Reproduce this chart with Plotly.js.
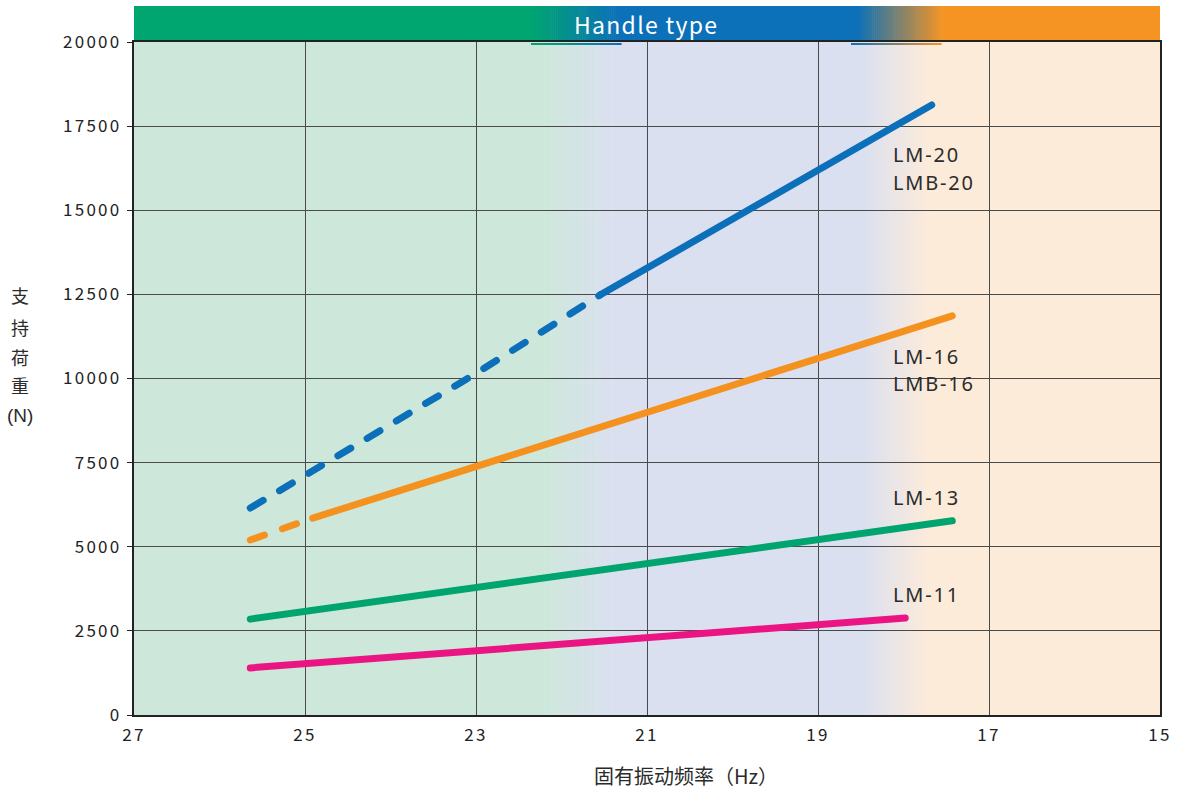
<!DOCTYPE html>
<html>
<head>
<meta charset="utf-8">
<script src="https://cdn.plot.ly/plotly-3.0.1.min.js"></script>
<style>
  html, body { margin: 0; padding: 0; background: #ffffff; }
  #chart { width: 1179px; height: 792px; }
  .scatterlayer .js-line { stroke-linecap: round; }
  .xtick text, .ytick text { letter-spacing: 2.3px; }
</style>
</head>
<body>
<div id="chart"></div>
<script>
// ---------- data ----------
const xTicks = [27, 25, 23, 21, 19, 17, 15];
const yTicks = [0, 2500, 5000, 7500, 10000, 12500, 15000, 17500, 20000];

const lm20DashFreq = [25.64, 23, 21.55];
const lm20DashLoad = [6150, 10150, 12480];
const lm20Freq = [21.55, 21, 19, 17.67];
const lm20Load = [12480, 13280, 16140, 18130];

const lm16DashFreq = [25.64, 24.91];
const lm16DashLoad = [5200, 5850];
const lm16Freq = [24.91, 23, 21, 19, 17.43];
const lm16Load = [5850, 7400, 8990, 10600, 11860];

const lm13Freq = [25.64, 23, 21, 19, 17.43];
const lm13Load = [2850, 3790, 4520, 5210, 5770];

const lm11Freq = [25.64, 23, 21, 17.98];
const lm11Load = [1400, 1910, 2300, 2880];

const seriesLabels = [
  {text: 'LM-20', y: 155}, {text: 'LMB-20', y: 182.5},
  {text: 'LM-16', y: 356}, {text: 'LMB-16', y: 383.5},
  {text: 'LM-13', y: 497}, {text: 'LM-11', y: 594}
];
const yTitleChars = ['支', '持', '荷', '重', '(N)'];
const xTitle = '固有振动频率（Hz）';
const bandTitle = 'Handle type';

// ---------- colours ----------
const C = {
  blue: '#0b70b9', orange: '#f5921f', green: '#00a46e', pink: '#ea1582',
  bgGreen: [205, 232, 218], bgLav: [218, 224, 240], bgPeach: [253, 235, 218],
  bandGreen: [0, 166, 111], bandBlue: [12, 113, 185], bandOrange: [245, 148, 35]
};

// ---------- geometry helpers (pixel -> paper) ----------
const L = 134, R = 1160, T = 42, B = 715;
const px = v => (v - L) / (R - L);
const py = v => (B - v) / (B - T);
const rgb = a => 'rgb(' + a.map(Math.round).join(',') + ')';
const mix = (a, b, t) => a.map((v, i) => v + (b[i] - v) * t);

const shapes = [];
function rect(x0, x1, y0, y1, col, layer) {
  shapes.push({type: 'rect', xref: 'paper', yref: 'paper', x0: px(x0), x1: px(x1),
    y0: py(y1), y1: py(y0), fillcolor: rgb(col), line: {width: 0}, layer: layer});
}
function grad(x0, x1, y0, y1, c0, c1, n, layer) {
  const w = (x1 - x0) / n;
  for (let i = 0; i < n; i++) {
    rect(x0 + i * w, x0 + (i + 1) * w + 0.6, y0, y1, mix(c0, c1, (i + 0.5) / n), layer);
  }
}
// plot background
rect(L, 541, T, B, C.bgGreen, 'below');
grad(540, 615, T, B, C.bgGreen, C.bgLav, 40, 'below');
rect(614, 863, T, B, C.bgLav, 'below');
grad(862, 930, T, B, C.bgLav, C.bgPeach, 40, 'below');
rect(929, R, T, B, C.bgPeach, 'below');
// header band
rect(L, 531, 6, 42, C.bandGreen, 'below');
grad(530, 617, 6, 42, C.bandGreen, C.bandBlue, 45, 'below');
rect(616, 858, 6, 42, C.bandBlue, 'below');
grad(857, 943, 6, 42, C.bandBlue, C.bandOrange, 45, 'below');
rect(942, R, 6, 42, C.bandOrange, 'below');
// thin gradient underlines below the band
grad(531, 621, 43, 45, C.bandGreen, C.bandBlue, 20, 'above');
grad(851, 941, 43, 45, C.bandBlue, C.bandOrange, 20, 'above');

// ---------- traces ----------
function line(x, y, color, dash) {
  return {x: x, y: y, type: 'scatter', mode: 'lines', hoverinfo: 'skip', showlegend: false,
    line: {color: color, width: 7, dash: dash || 'solid'}};
}
const traces = [
  line(lm11Freq, lm11Load, C.pink),
  line(lm13Freq, lm13Load, C.green),
  line(lm16DashFreq, lm16DashLoad, C.orange, '15px,19px'),
  line(lm16Freq, lm16Load, C.orange),
  line(lm20DashFreq, lm20DashLoad, C.blue, '15px,19px'),
  line(lm20Freq, lm20Load, C.blue)
];

// ---------- annotations ----------
const FONT = 'Noto Sans CJK JP, Noto Sans, sans-serif';
const spaced = (t, s) => '<span style="letter-spacing:' + s + 'px">' + t + '</span>';
const annotations = [];
seriesLabels.forEach(s => annotations.push({
  xref: 'paper', yref: 'paper', x: px(891), y: py(s.y), xanchor: 'left', yanchor: 'middle', align: 'left',
  text: spaced(s.text, 1.8), showarrow: false,
  font: {family: 'Noto Sans, sans-serif', size: 20, color: '#2b2b2b'}
}));
const yTitleY = [295, 327, 357, 385, 415];
yTitleChars.forEach((ch, i) => {
  annotations.push({xref: 'paper', yref: 'paper', x: px(20), y: py(yTitleY[i]), xanchor: 'center', yanchor: 'middle',
    text: ch, showarrow: false,
    font: {family: i === 4 ? 'Liberation Sans Narrow, Liberation Sans, sans-serif' : FONT, size: i === 4 ? 19 : 18, color: '#2b2b2b'}});
});
annotations.push({xref: 'paper', yref: 'paper', x: px(686), y: py(776), xanchor: 'center', yanchor: 'middle',
  text: xTitle, showarrow: false, font: {family: FONT, size: 20, color: '#2b2b2b'}});
annotations.push({xref: 'paper', yref: 'paper', x: px(646), y: py(24), xanchor: 'center', yanchor: 'middle',
  text: spaced(bandTitle, 1.3), showarrow: false, font: {family: FONT, size: 23, color: '#ffffff'}});

const layout = {
  width: 1179, height: 792,
  margin: {l: L, r: 1179 - R, t: T, b: 792 - B, pad: 0},
  paper_bgcolor: '#ffffff', plot_bgcolor: 'rgba(0,0,0,0)',
  font: {family: FONT, size: 16, color: '#222222'},
  xaxis: {
    range: [27, 15], tickvals: xTicks, ticktext: xTicks.map(String),
    showgrid: true, gridcolor: '#4a4a4a', gridwidth: 1,
    showline: true, linecolor: '#222222', linewidth: 2, mirror: true,
    ticks: '', ticklabelstandoff: 4, zeroline: false,
    tickfont: {family: FONT, size: 17, color: '#222222'}
  },
  yaxis: {
    range: [0, 20000], tickvals: yTicks, ticktext: yTicks.map(String),
    showgrid: true, gridcolor: '#4a4a4a', gridwidth: 1,
    showline: true, linecolor: '#222222', linewidth: 2, mirror: true,
    ticks: 'outside', ticklen: 5, tickcolor: '#222222', tickwidth: 1, zeroline: false,
    ticklabelstandoff: 2,
    tickfont: {family: FONT, size: 17, color: '#222222'}
  },
  shapes: shapes,
  annotations: annotations
};

Plotly.newPlot('chart', traces, layout, {staticPlot: true, displayModeBar: false});
</script>
</body>
</html>
